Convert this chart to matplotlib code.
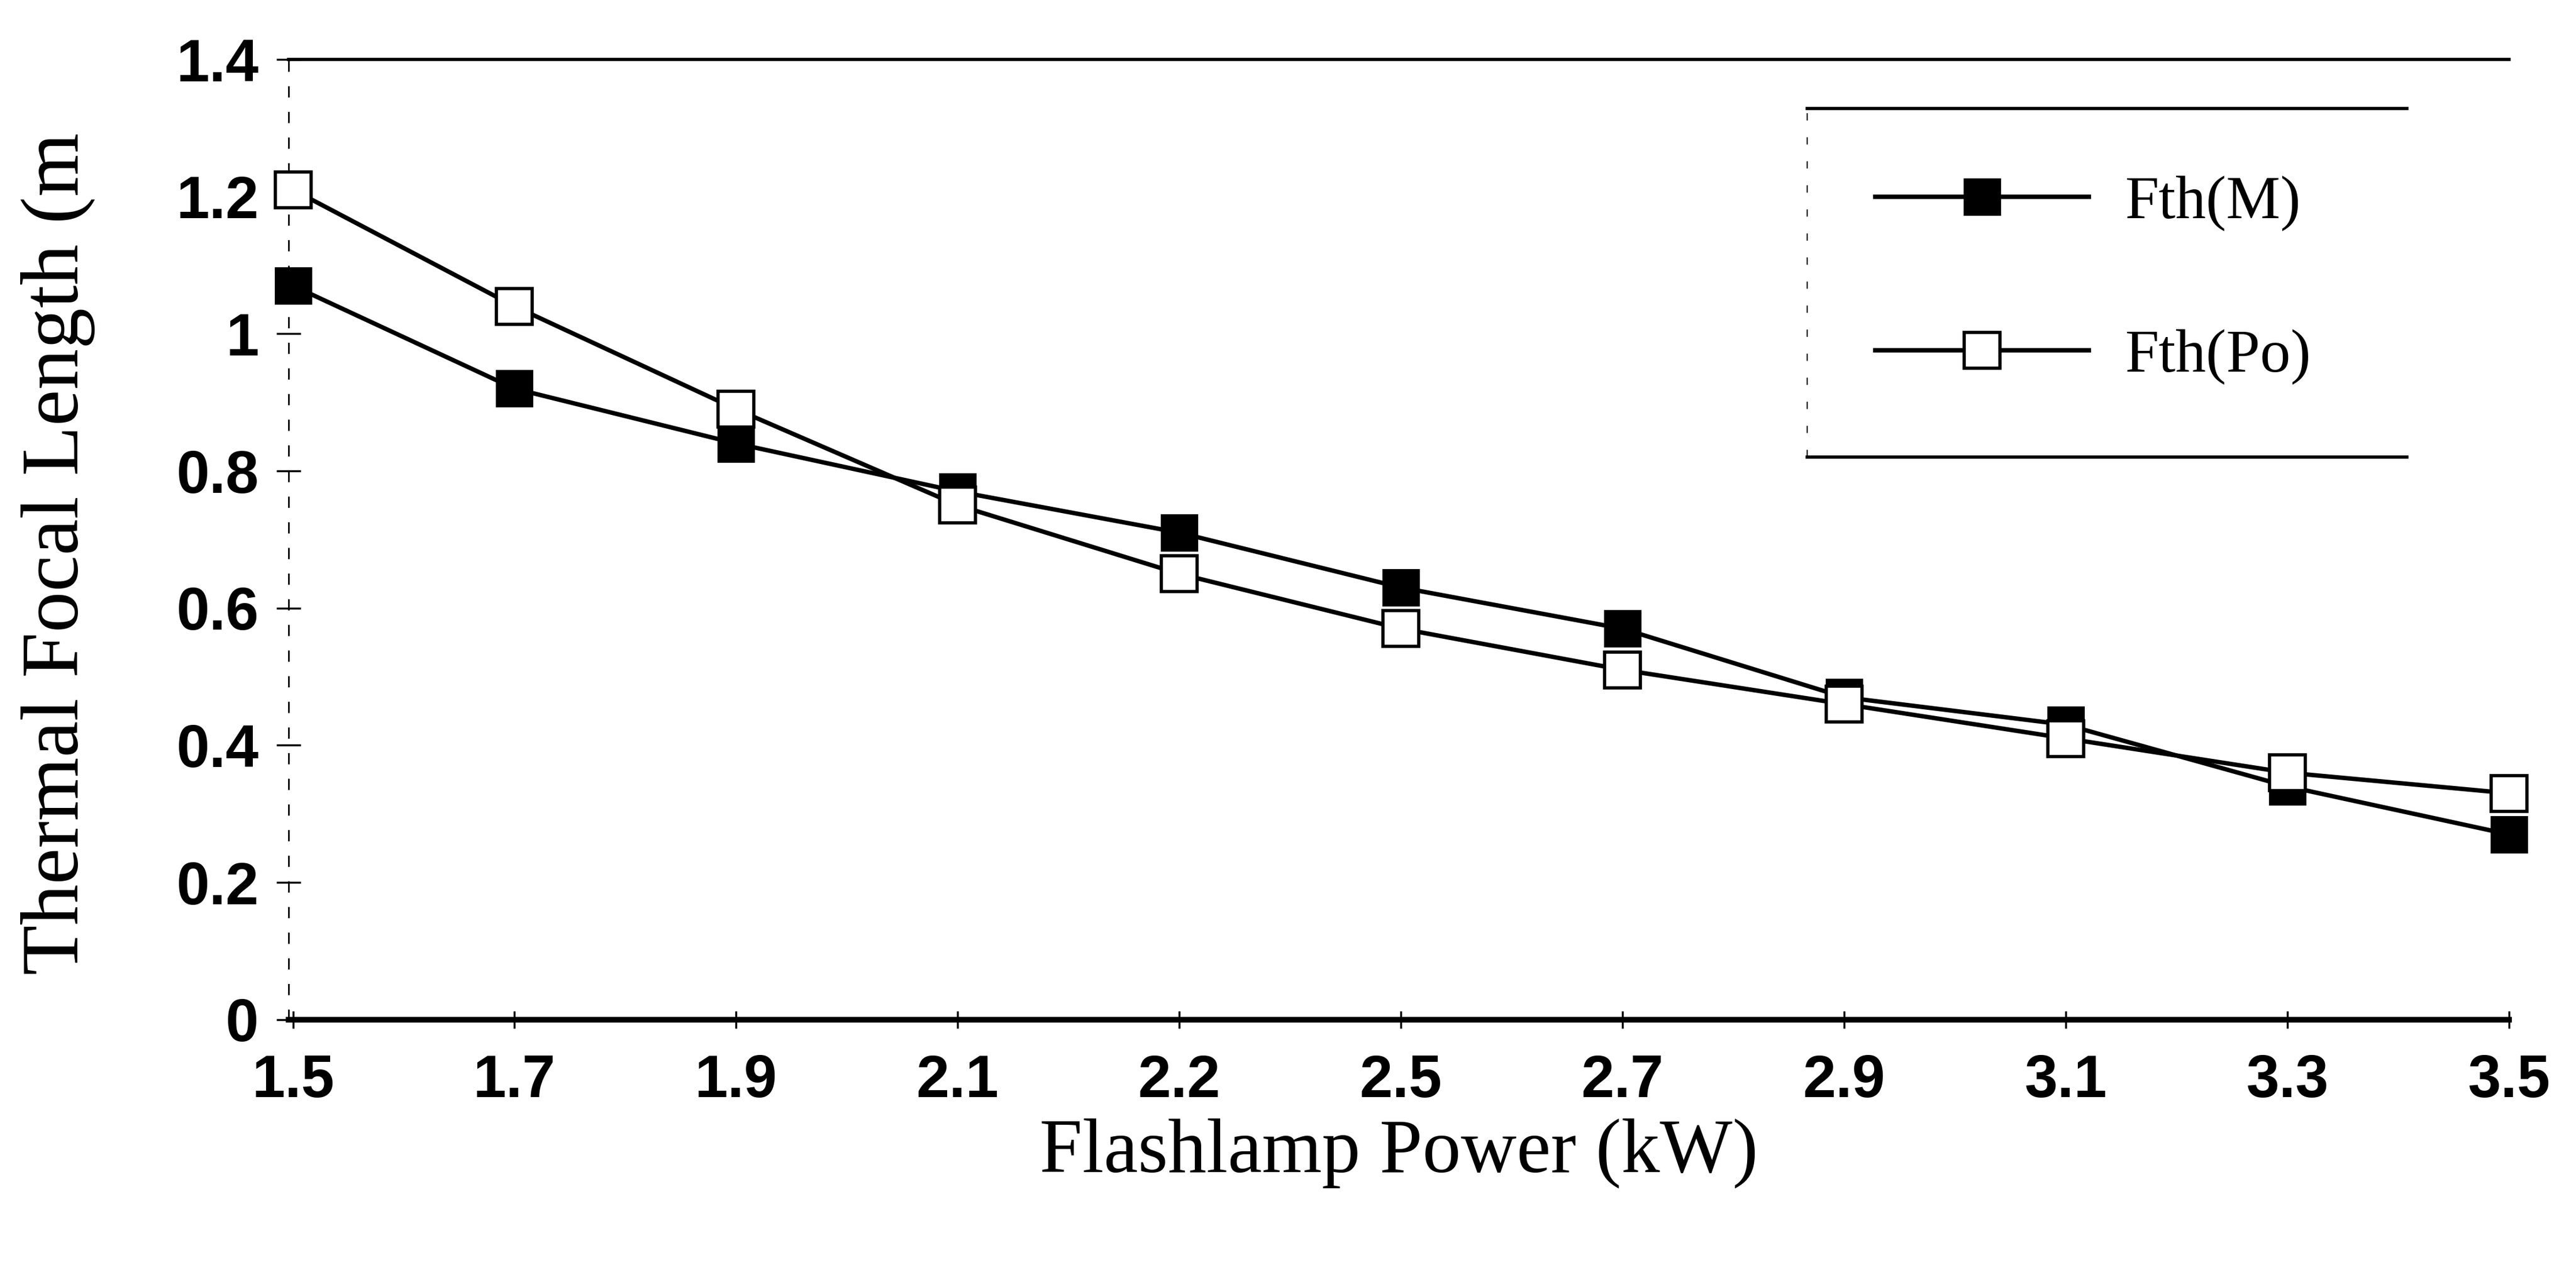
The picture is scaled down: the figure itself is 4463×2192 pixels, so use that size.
import numpy as np
import matplotlib
matplotlib.use("Agg")
import matplotlib.pyplot as plt

power = ["1.5", "1.7", "1.9", "2.1", "2.2", "2.5", "2.7", "2.9", "3.1", "3.3", "3.5"]
fth_m = [1.07, 0.92, 0.84, 0.77, 0.71, 0.63, 0.57, 0.47, 0.43, 0.34, 0.27]
fth_po = [1.21, 1.04, 0.89, 0.75, 0.65, 0.57, 0.51, 0.46, 0.41, 0.36, 0.33]
yticks = [0, 0.2, 0.4, 0.6, 0.8, 1.0, 1.2, 1.4]
ylabels = ["0", "0.2", "0.4", "0.6", "0.8", "1", "1.2", "1.4"]

serif = ["Liberation Serif", "DejaVu Serif"]
sans = ["Liberation Sans", "DejaVu Sans"]

fig = plt.figure(figsize=(44.63, 21.92), dpi=100)
ax = fig.add_axes([0.112, 0.194, 0.862, 0.759])

x = np.arange(len(power))
ax.plot(x, fth_m, color="black", lw=5.5, marker="s", ms=44, mfc="black",
        mec="black", mew=2, label="Fth(M)", clip_on=False, zorder=3)
ax.plot(x, fth_po, color="black", lw=5.5, marker="s", ms=44, mfc="white",
        mec="black", mew=4, label="Fth(Po)", clip_on=False, zorder=4)

ax.set_xlim(-0.02, 10.0)
ax.set_ylim(0, 1.4)
ax.set_xticks(x)
ax.set_xticklabels(power)
ax.set_yticks(yticks)
ax.set_yticklabels(ylabels)

for lab in ax.get_xticklabels() + ax.get_yticklabels():
    lab.set_family(sans)
    lab.set_fontweight("bold")
    lab.set_fontsize(74)

ax.tick_params(axis="x", direction="inout", length=22, width=2.5, pad=32)
ax.tick_params(axis="y", direction="inout", length=30, width=2.5, pad=22)

ax.spines["right"].set_visible(False)
ax.spines["bottom"].set_linewidth(7)
ax.spines["top"].set_linewidth(4)
ax.spines["left"].set_linewidth(2)
ax.spines["left"].set_linestyle((0, (6, 10)))

ax.set_xlabel("Flashlamp Power (kW)", family=serif, fontsize=96, labelpad=10)
ax.set_ylabel("Thermal Focal Length (m", family=serif, fontsize=102)
ax.yaxis.set_label_coords(-0.087, 0.485)

# legend box: only top and bottom rules are drawn
ax.plot([0.684, 0.954], [0.949, 0.949], transform=ax.transAxes, color="black", lw=4)
ax.plot([0.684, 0.954], [0.586, 0.586], transform=ax.transAxes, color="black", lw=4)
ax.plot([0.684, 0.684], [0.586, 0.949], transform=ax.transAxes, color="black",
        lw=1.5, ls=(0, (6, 14)))
leg = ax.legend(loc="center left", bbox_to_anchor=(0.69, 0.77), frameon=False,
                prop={"family": serif, "size": 76}, handlelength=3.5,
                labelspacing=1.6, handletextpad=0.6)

fig.savefig("out.png", dpi=100, facecolor="white")
